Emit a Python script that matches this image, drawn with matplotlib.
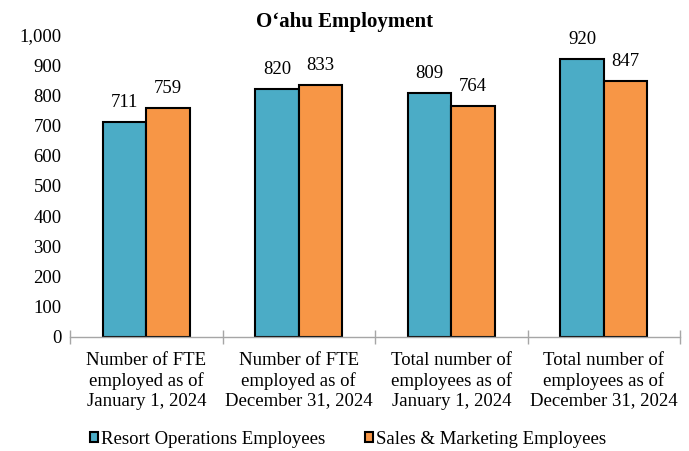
import matplotlib.pyplot as plt
import matplotlib.ticker as ticker
import numpy as np

plt.rcParams['font.family'] = ['Liberation Serif', 'DejaVu Serif']

categories = ['Number of FTE\nemployed as of\nJanuary 1, 2024',
              'Number of FTE\nemployed as of\nDecember 31, 2024',
              'Total number of\nemployees as of\nJanuary 1, 2024',
              'Total number of\nemployees as of\nDecember 31, 2024']
resort_ops = [711, 820, 809, 920]
sales_mkt = [759, 833, 764, 847]
series_names = ['Resort Operations Employees', 'Sales & Marketing Employees']
colors = ['#4BACC6', '#F79646']

fs = 13.5

fig = plt.figure(figsize=(6.89, 4.51), dpi=100)
ax = fig.add_axes([0.1016, 0.2528, 0.8854, 0.6696])

x = np.arange(len(categories))
w = 0.285
b1 = ax.bar(x - w / 2, resort_ops, w, color=colors[0], edgecolor='black', linewidth=1.5,
            label=series_names[0])
b2 = ax.bar(x + w / 2, sales_mkt, w, color=colors[1], edgecolor='black', linewidth=1.5,
            label=series_names[1])
ax.bar_label(b1, labels=[str(v) for v in resort_ops], padding=8, fontsize=fs)
ax.bar_label(b2, labels=[str(v) for v in sales_mkt], padding=8, fontsize=fs)

ax.set_xlim(-0.5, len(categories) - 0.5)
ax.set_ylim(0, 1000)
ax.yaxis.set_major_locator(ticker.MultipleLocator(100))
ax.yaxis.set_major_formatter(ticker.FuncFormatter(lambda v, p: f"{int(v):,}"))
ax.tick_params(axis='y', length=0, labelsize=fs, pad=6)

ax.set_xticks(x)
ax.set_xticklabels(categories, fontsize=fs, linespacing=1.2)
ax.tick_params(axis='x', which='major', length=0, pad=11)
ax.set_xticks(np.arange(-0.5, len(categories)), minor=True)
ax.tick_params(axis='x', which='minor', length=10, width=1, color='#a6a6a6', direction='inout')

for s in ['top', 'right', 'left']:
    ax.spines[s].set_visible(False)
ax.spines['bottom'].set_color('#a6a6a6')
ax.spines['bottom'].set_linewidth(1)

fig.text(0.5, 1 - 22 / 451, 'O\u2018ahu Employment', fontsize=15, fontweight='bold',
         ha='center', va='center')

fig.legend(handles=[b1, b2], loc='center', bbox_to_anchor=(0.505, 1 - 439 / 451), ncol=2,
           frameon=False, fontsize=fs, handlelength=0.45, handleheight=0.45,
           handletextpad=0.15, columnspacing=2.1, borderpad=0)

plt.savefig('out.png', dpi=100)
plt.close()
